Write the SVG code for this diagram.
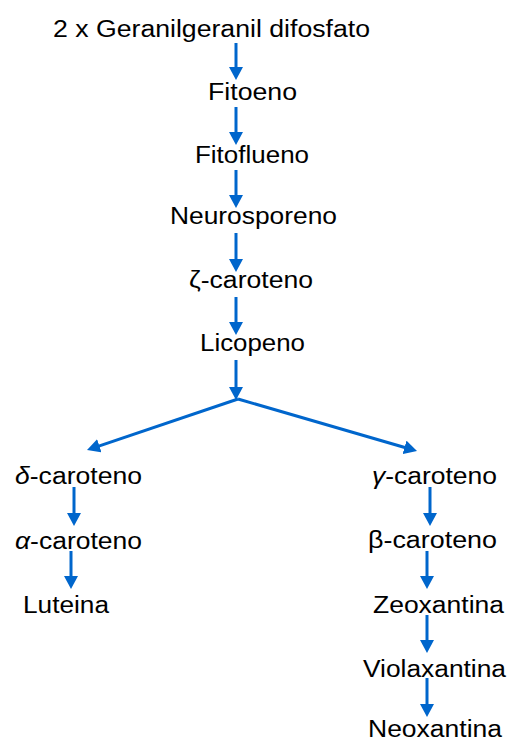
<svg xmlns="http://www.w3.org/2000/svg" width="508" height="742" viewBox="0 0 508 742">
<style>
.t{font-family:"Liberation Sans",Arial,sans-serif;font-size:23.5px;fill:#000;text-anchor:middle}
.g{font-style:italic}
.c line{stroke:#0066CC;stroke-width:3;fill:none;marker-end:url(#ah)}
</style>
<defs>
<marker id="ah" markerUnits="userSpaceOnUse" markerWidth="13" markerHeight="14" refX="3" refY="7" orient="auto">
<path d="M0,0 L13,7 L0,14 z" fill="#0066CC"/>
</marker>
</defs>
<rect width="508" height="742" fill="#fff"/>
<g id="connectors" class="c">
<line x1="236" y1="43" x2="236" y2="70"/>
<line x1="236" y1="107" x2="236" y2="135"/>
<line x1="236" y1="170" x2="236" y2="198"/>
<line x1="236" y1="233" x2="236" y2="262"/>
<line x1="236" y1="297" x2="236" y2="325"/>
<line x1="236" y1="360" x2="236" y2="390"/>
<line x1="238" y1="399" x2="96.5" y2="446.8"/>
<line x1="238" y1="399" x2="407.4" y2="448.2"/>
<line x1="74" y1="487" x2="74" y2="516"/>
<line x1="71" y1="551" x2="71" y2="579"/>
<line x1="430" y1="487" x2="430" y2="516"/>
<line x1="427" y1="551" x2="427" y2="579"/>
<line x1="427" y1="615" x2="427" y2="643"/>
<line x1="427" y1="678" x2="427" y2="707"/>
</g>
<g id="ggpp"><text class="t" x="211.5" y="36.5" textLength="317" lengthAdjust="spacingAndGlyphs">2 x Geranilgeranil difosfato</text></g>
<g id="fitoeno"><text class="t" x="252.5" y="100" textLength="89" lengthAdjust="spacingAndGlyphs">Fitoeno</text></g>
<g id="fitoflueno"><text class="t" x="252" y="163" textLength="114" lengthAdjust="spacingAndGlyphs">Fitoflueno</text></g>
<g id="neurosporeno"><text class="t" x="253.5" y="224" textLength="167" lengthAdjust="spacingAndGlyphs">Neurosporeno</text></g>
<g id="zeta"><text class="t" x="251" y="288" textLength="124" lengthAdjust="spacingAndGlyphs">ζ-caroteno</text></g>
<g id="licopeno"><text class="t" x="252.5" y="351" textLength="105" lengthAdjust="spacingAndGlyphs">Licopeno</text></g>
<g id="delta"><text class="t" x="78.5" y="484" textLength="127" lengthAdjust="spacingAndGlyphs"><tspan class="g">δ</tspan>-caroteno</text></g>
<g id="alfa"><text class="t" x="78.5" y="549" textLength="127" lengthAdjust="spacingAndGlyphs"><tspan class="g">α</tspan>-caroteno</text></g>
<g id="luteina"><text class="t" x="66" y="613" textLength="86" lengthAdjust="spacingAndGlyphs">Luteina</text></g>
<g id="gamma"><text class="t" x="434.5" y="484" textLength="125" lengthAdjust="spacingAndGlyphs"><tspan class="g">γ</tspan>-caroteno</text></g>
<g id="beta"><text class="t" x="432.5" y="548" textLength="129" lengthAdjust="spacingAndGlyphs">β-caroteno</text></g>
<g id="zeoxantina"><text class="t" x="438.5" y="613" textLength="131" lengthAdjust="spacingAndGlyphs">Zeoxantina</text></g>
<g id="violaxantina"><text class="t" x="434.5" y="677" textLength="143" lengthAdjust="spacingAndGlyphs">Violaxantina</text></g>
<g id="neoxantina"><text class="t" x="435" y="737" textLength="134" lengthAdjust="spacingAndGlyphs">Neoxantina</text></g>
</svg>
